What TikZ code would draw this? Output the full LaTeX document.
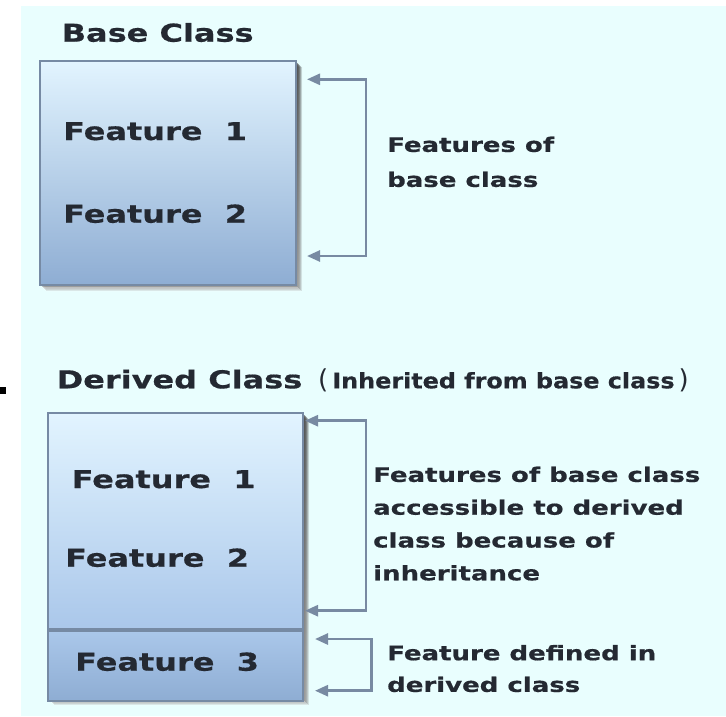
\documentclass[tikz,border=0pt]{standalone}
\usepackage{fontspec}
\usetikzlibrary{arrows.meta,calc}

% Fonts: a wide bold sans for headings and labels, a narrower one for the note
\newfontfamily\hfont{DejaVu Sans}[FakeStretch=1.3, FakeBold=0.6]
\newfontfamily\nfont{DejaVu Sans}[FakeStretch=1.12, FakeBold=0.5]
\newfontfamily\pfont{DejaVu Sans}

\definecolor{bgc}{RGB}{233,254,254}
\definecolor{txt}{RGB}{36,41,50}
\definecolor{edge}{RGB}{118,138,164}
\definecolor{arrc}{RGB}{120,138,162}
\definecolor{boxtop}{RGB}{226,244,255}
\definecolor{boxmid}{RGB}{170,199,234}
\definecolor{boxbot}{RGB}{142,173,211}
\definecolor{shade}{RGB}{100,118,142}

\tikzset{
  headtxt/.style={font=\hfont\bfseries\fontsize{24.6}{30}\selectfont, text=txt, inner sep=0pt},
  feattxt/.style={font=\hfont\bfseries\fontsize{24.6}{30}\selectfont, text=txt, inner sep=0pt, anchor=base west},
  desctxt/.style={font=\hfont\bfseries\fontsize{20}{33}\selectfont, text=txt, inner sep=0pt, align=left, anchor=north west},
  classbox/.style={draw=edge, line width=2pt, inner sep=0pt, anchor=north west},
  bracket/.style={draw=arrc, line width=2.6pt, {Triangle[length=13pt,width=11pt]}-{Triangle[length=13pt,width=11pt]}},
}

\newcommand{\softshadow}[2]{%
  \foreach \o/\a in {7/0.12,6/0.18,5/0.25,4/0.32,3/0.35}{%
    \fill[shade, opacity=\a] ($(#1)+(\o,\o)$) rectangle ($(#2)+(\o,\o)$);}%
}

\begin{document}
\begin{tikzpicture}[x=1pt,y=-1pt]
  \useasboundingbox (0,0) rectangle (726,716);
  \fill[white] (0,0) rectangle (726,716);
  \fill[bgc] (21,6) rectangle (726,716);
  \fill[black] (0,387) rectangle (6,393.5);

  % ---- base class ----
  \node[headtxt, anchor=base west] (basetitle) at (61.5,41.7) {Base Class};
  \coordinate (bnw) at (39,60);
  \coordinate (bse) at (295,284);
  \softshadow{bnw}{bse}
  \node[classbox, minimum width=256pt, minimum height=224pt,
        top color=boxtop, bottom color=boxbot] (basebox) at (bnw) {};
  \node[feattxt] (bf1) at (63,140) {Feature\ \ 1};
  \node[feattxt] (bf2) at (63,222.7) {Feature\ \ 2};

  \coordinate (b1a) at (307,79.3);
  \coordinate (b1b) at (366,79.3);
  \coordinate (b1c) at (366,256);
  \coordinate (b1d) at (307,256);
  \draw[bracket] (b1a) -- (b1b) -- (b1c) -- (b1d);
  \node[desctxt, font=\hfont\bfseries\fontsize{20}{35}\selectfont] (bdesc) at (387,136.5) {Features of\\base class};

  % ---- derived class ----
  \node[headtxt, anchor=base west] (dertitle) at (56.5,388.3) {Derived Class};
  \node[anchor=base west, inner sep=0pt, text=txt] (dernote) at (318,388.3)
    {{\pfont\fontsize{26}{30}\selectfont(}\hspace{4pt}{\nfont\bfseries\fontsize{21.3}{26}\selectfont Inherited from base class}\hspace{4pt}{\pfont\fontsize{26}{30}\selectfont)}};

  \coordinate (dnw) at (47,412);
  \coordinate (dse) at (302,698);
  \softshadow{dnw}{dse}
  \node[classbox, minimum width=255pt, minimum height=216pt,
        top color=boxtop, bottom color=boxmid] (dtop) at (dnw) {};
  \node[classbox, minimum width=255pt, minimum height=70pt,
        top color=boxmid, bottom color=boxbot, anchor=north west] (dbot) at (dtop.south west) {};
  \node[feattxt] (df1) at (71.5,488) {Feature\ \ 1};
  \node[feattxt] (df2) at (65,566.7) {Feature\ \ 2};
  \node[feattxt] (df3) at (75,670.7) {Feature\ \ 3};

  \coordinate (b2a) at (305,420.7);
  \coordinate (b2b) at (366,420.7);
  \coordinate (b2c) at (366,610.7);
  \coordinate (b2d) at (305,610.7);
  \draw[bracket] (b2a) -- (b2b) -- (b2c) -- (b2d);
  \node[desctxt, font=\hfont\bfseries\fontsize{20}{32.8}\selectfont] (ddesc) at (373,466.5)
    {Features of base class\\accessible to derived\\class because of\\inheritance};

  \coordinate (b3a) at (315,639);
  \coordinate (b3b) at (371.5,639);
  \coordinate (b3c) at (371.5,690.7);
  \coordinate (b3d) at (315,690.7);
  \draw[bracket] (b3a) -- (b3b) -- (b3c) -- (b3d);
  \node[desctxt, font=\hfont\bfseries\fontsize{20}{31.7}\selectfont] (d3desc) at (387,644.8)
    {Feature defined in\\derived class};
\end{tikzpicture}
\end{document}
